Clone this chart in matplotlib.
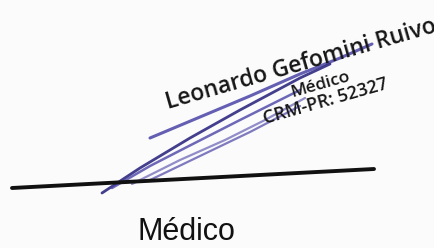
import matplotlib.pyplot as plt

# stamp text
stamp_lines = ["Leonardo Gefomini Ruivo", "Médico", "CRM-PR: 52327"]
role_label = "Médico"

# signature strokes (image pixel coords)
stroke_top_x = [150, 200, 250, 300, 340, 372]
stroke_top_y = [138, 117, 96, 74, 58, 44]
stroke_a_x = [102, 140, 190, 240, 300, 330]
stroke_a_y = [193, 168, 138, 110, 78, 64]
stroke_b_x = [112, 150, 185, 240, 300]
stroke_b_y = [188, 166, 148, 120, 90]
stroke_c_x = [132, 180, 225, 265, 305]
stroke_c_y = [184, 160, 140, 120, 98]
stroke_d_x = [148, 200, 250, 300]
stroke_d_y = [181, 156, 132, 106]

# base line
line_x = [12, 374]
line_y = [188, 169]

fig = plt.figure(figsize=(4.35, 2.48), dpi=100)
fig.patch.set_facecolor("#fbfbfb")
ax = fig.add_axes([0, 0, 1, 1])
ax.set_xlim(0, 435)
ax.set_ylim(248, 0)
ax.axis("off")

# stamp
ax.text(168, 109, stamp_lines[0], rotation=16, rotation_mode="anchor",
        fontsize=16.5, family="Open Sans", fontweight="semibold",
        color="#161616", ha="left", va="baseline")
ax.text(292, 97, stamp_lines[1], rotation=16, rotation_mode="anchor",
        fontsize=12.5, family="Open Sans", fontweight="semibold",
        color="#161616", ha="left", va="baseline")
ax.text(265, 124, stamp_lines[2], rotation=16, rotation_mode="anchor",
        fontsize=13, family="Open Sans", fontweight="semibold",
        color="#161616", ha="left", va="baseline")

# signature
sig = "#4a44a6"
ax.plot(stroke_top_x, stroke_top_y, color=sig, lw=2.2, alpha=0.85, solid_capstyle="round")
ax.plot(stroke_a_x, stroke_a_y, color="#2f2a80", lw=2.0, alpha=0.9, solid_capstyle="round")
ax.plot(stroke_b_x, stroke_b_y, color=sig, lw=1.8, alpha=0.8, solid_capstyle="round")
ax.plot(stroke_c_x, stroke_c_y, color=sig, lw=1.6, alpha=0.6, solid_capstyle="round")
ax.plot(stroke_d_x, stroke_d_y, color=sig, lw=1.6, alpha=0.7, solid_capstyle="round")

# signature line
ax.plot(line_x, line_y, color="#111111", lw=2.8, solid_capstyle="round")

ax.text(186, 240, role_label, fontsize=22, family="Liberation Sans",
        color="#111111", ha="center", va="baseline")

plt.savefig("out.png", dpi=100, facecolor=fig.get_facecolor())
